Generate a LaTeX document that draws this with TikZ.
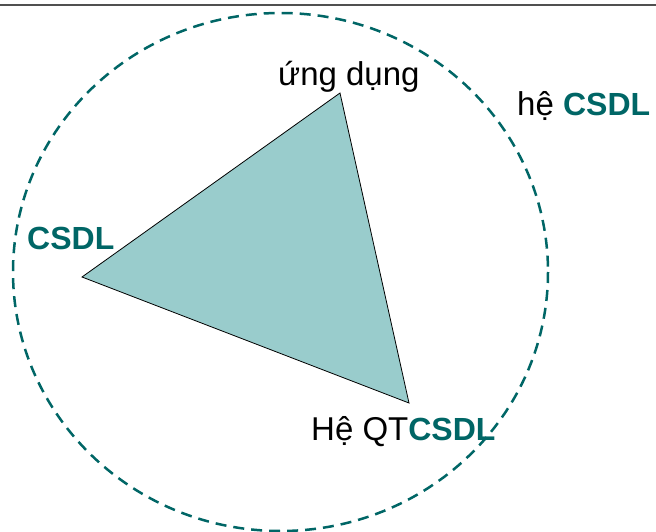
\documentclass[tikz,border=0pt]{standalone}
\usepackage{fontspec}
\setmainfont{Liberation Sans}
\definecolor{teal6}{RGB}{0,102,102}
\definecolor{trifill}{RGB}{153,204,204}
\definecolor{rulegray}{RGB}{80,80,80}
\tikzset{
  lbl/.style={inner sep=0pt, anchor=base west, font=\fontsize{33}{38}\selectfont},
  hl/.style={text=teal6, font=\fontsize{32}{38}\selectfont\bfseries},
}
\newcommand{\hlcs}{\textcolor{teal6}{\fontsize{32}{38}\selectfont\bfseries CSDL}}
\begin{document}
\begin{tikzpicture}[x=1pt,y=-1pt]
\useasboundingbox (0,0) rectangle (656,532);
\fill[white] (0,0) rectangle (656,532);
% top rule
\coordinate (rl) at (0,5);
\coordinate (rr) at (656,5);
\draw[rulegray, line width=2pt] (rl) -- (rr);
% dashed circle
\coordinate (c) at (280.5,272);
\draw[teal6, line width=2.5pt, dash pattern=on 11pt off 7pt] (c) ellipse [x radius=267.5, y radius=259];
% triangle
\coordinate (ta) at (340,93);
\coordinate (tb) at (82,277);
\coordinate (tc) at (409,403);
\filldraw[fill=trifill, draw=black, line width=0.8pt, line join=miter] (ta) -- (tb) -- (tc) -- cycle;
% labels
\node[lbl] (ud) at (278,86) {ứng dụng};
\node[lbl] (he) at (517,116) {hệ \hlcs};
\node[lbl, hl] (cs) at (27,249) {CSDL};
\node[lbl] (qt) at (311,440) {Hệ QT\hlcs};
\end{tikzpicture}
\end{document}
